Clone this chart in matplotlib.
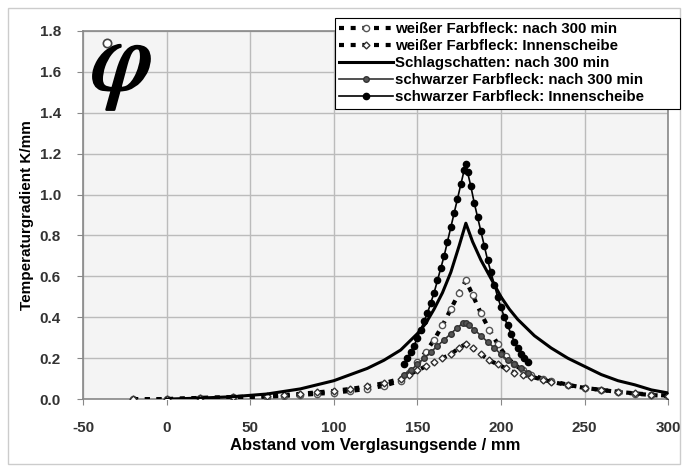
"""
Temperaturgradient vs. Abstand vom Verglasungsende.

Run:
    python plot.py
"""

import matplotlib
matplotlib.use("Agg")
import matplotlib.pyplot as plt
import matplotlib.patheffects as pe
from matplotlib.patches import Rectangle

plt.rcParams["font.family"] = ["Liberation Sans", "DejaVu Sans"]
plt.rcParams["mathtext.fontset"] = "stix"

# weißer Farbfleck: nach 300 min
w300_x = [-20, 0, 20, 40, 60, 70, 80, 90, 100, 110, 120, 130, 140, 145, 150, 155,
          160, 165, 170, 175, 179, 183, 188, 193, 198, 203, 208, 213, 218, 225,
          230, 240, 250, 260, 270, 280, 290, 300]
w300_y = [0.0, 0.0, 0.005, 0.008, 0.012, 0.016, 0.02, 0.026, 0.032, 0.04, 0.05, 0.065,
          0.09, 0.13, 0.18, 0.23, 0.29, 0.36, 0.44, 0.52, 0.58, 0.51, 0.42, 0.34,
          0.27, 0.21, 0.17, 0.14, 0.12, 0.10, 0.09, 0.07, 0.055, 0.045, 0.035,
          0.027, 0.02, 0.015]

# weißer Farbfleck: Innenscheibe
win_x = [-20, 0, 20, 40, 60, 70, 80, 90, 100, 110, 120, 130, 140, 145, 150, 155,
         160, 165, 170, 175, 179, 183, 188, 193, 198, 203, 208, 213, 218, 225,
         230, 240, 250, 260, 270, 280, 290, 300]
win_y = [0.0, 0.0, 0.006, 0.01, 0.015, 0.02, 0.026, 0.033, 0.04, 0.05, 0.062, 0.078,
         0.10, 0.12, 0.14, 0.16, 0.18, 0.20, 0.22, 0.25, 0.27, 0.25, 0.22, 0.19,
         0.17, 0.15, 0.13, 0.12, 0.11, 0.095, 0.085, 0.068, 0.055, 0.045, 0.036,
         0.028, 0.022, 0.017]

# Schlagschatten: nach 300 min
ss_x = [0, 20, 40, 60, 80, 100, 110, 120, 130, 140, 150, 155, 160, 165, 170, 175,
        179, 183, 188, 192, 196, 200, 205, 210, 220, 230, 240, 250, 260, 270,
        280, 290, 300]
ss_y = [0.0, 0.005, 0.012, 0.025, 0.05, 0.09, 0.12, 0.15, 0.19, 0.24, 0.32, 0.37,
        0.44, 0.52, 0.62, 0.75, 0.86, 0.77, 0.68, 0.62, 0.56, 0.50, 0.44, 0.39,
        0.31, 0.25, 0.20, 0.16, 0.12, 0.09, 0.07, 0.045, 0.03]

# schwarzer Farbfleck: nach 300 min
s300_x = [142, 146, 150, 154, 158, 162, 166, 170, 174, 177, 179, 181, 184, 188,
          192, 196, 200, 204, 208, 212, 216]
s300_y = [0.12, 0.14, 0.17, 0.20, 0.23, 0.26, 0.29, 0.32, 0.35, 0.37, 0.37, 0.36,
          0.34, 0.31, 0.28, 0.25, 0.22, 0.19, 0.17, 0.15, 0.13]

# schwarzer Farbfleck: Innenscheibe
sin_x = [142, 144, 146, 148, 150, 152, 154, 156, 158, 160, 162, 164, 166, 168, 170,
         172, 174, 176, 178, 179, 180, 182, 184, 186, 188, 190, 192, 194, 196, 198,
         200, 202, 204, 206, 208, 210, 212, 214, 216]
sin_y = [0.17, 0.20, 0.23, 0.26, 0.30, 0.34, 0.38, 0.42, 0.47, 0.52, 0.58, 0.64,
         0.70, 0.77, 0.84, 0.91, 0.98, 1.05, 1.12, 1.15, 1.11, 1.04, 0.96, 0.89,
         0.82, 0.75, 0.68, 0.62, 0.56, 0.50, 0.45, 0.40, 0.36, 0.32, 0.28, 0.25,
         0.22, 0.20, 0.18]

x_ticks = [-50, 0, 50, 100, 150, 200, 250, 300]
y_ticks = [0.0, 0.2, 0.4, 0.6, 0.8, 1.0, 1.2, 1.4, 1.6, 1.8]


def main() -> None:
    fig = plt.figure(figsize=(6.82, 4.69), dpi=100)
    ax = fig.add_axes([0.1217, 0.149, 0.858, 0.785])
    ax.set_facecolor("#f4f4f4")

    ax.plot(w300_x, w300_y, color="black", linestyle=(0, (1.2, 1.6)), linewidth=3.0,
            marker="o", markersize=4.5, markerfacecolor="white", markeredgecolor="#555555",
            markeredgewidth=1.0, label="weißer Farbfleck: nach 300 min", zorder=3)
    ax.plot(win_x, win_y, color="black", linestyle=(0, (1.2, 1.6)), linewidth=3.0,
            marker="D", markersize=3.5, markerfacecolor="white", markeredgecolor="#333333",
            markeredgewidth=1.0, label="weißer Farbfleck: Innenscheibe", zorder=3)
    ax.plot(ss_x, ss_y, color="black", linewidth=2.2,
            label="Schlagschatten: nach 300 min", zorder=4)
    ax.plot(s300_x, s300_y, color="#333333", linewidth=1.2, marker="o", markersize=4,
            markerfacecolor="#555555", markeredgecolor="#333333",
            label="schwarzer Farbfleck: nach 300 min", zorder=4)
    ax.plot(sin_x, sin_y, color="black", linewidth=1.2, marker="o", markersize=4.5,
            markerfacecolor="black", markeredgecolor="black",
            label="schwarzer Farbfleck: Innenscheibe", zorder=5)

    ax.set_xlim(-50, 300)
    ax.set_ylim(0, 1.8)
    ax.set_xticks(x_ticks)
    ax.set_yticks(y_ticks)
    ax.set_xticklabels([str(t) for t in x_ticks])
    ax.set_yticklabels([f"{t:.1f}" for t in y_ticks])
    ax.tick_params(labelsize=11, length=4, color="#888888")
    ax.tick_params(axis="x", pad=12)
    ax.tick_params(axis="y", pad=12)
    for lab in ax.get_xticklabels() + ax.get_yticklabels():
        lab.set_fontweight("bold")
        lab.set_color("#333333")
    ax.grid(True, color="#bbbbbb", linewidth=1.0)
    ax.set_axisbelow(True)
    for sp in ax.spines.values():
        sp.set_color("#888888")
        sp.set_linewidth(1.2)

    ax.set_xlabel("Abstand vom Verglasungsende / mm", fontsize=12, fontweight="bold",
                  labelpad=2)
    ax.set_ylabel("Temperaturgradient K/mm", fontsize=11, fontweight="bold", labelpad=4)

    # phi symbol top left, small ring drawn as a marker
    ax.text(0.013, 1.035, r"$\varphi$", transform=ax.transAxes, fontsize=72,
            ha="left", va="top",
            path_effects=[pe.withStroke(linewidth=1.8, foreground="black")])
    ax.plot([0.041], [0.967], transform=ax.transAxes, marker="o", markersize=6,
            markerfacecolor="white", markeredgecolor="#444444", markeredgewidth=1.2,
            linestyle="none", zorder=6)

    leg = fig.legend(loc="upper left", bbox_to_anchor=(0.491, 0.74, 0.506, 0.222),
                     mode="expand", ncol=1,
                     prop={"size": 10.8, "weight": "bold"}, frameon=True, fancybox=False,
                     handlelength=3.6, handletextpad=0.1, borderpad=0.3,
                     labelspacing=0.2, borderaxespad=0)
    leg.get_frame().set_edgecolor("black")
    leg.get_frame().set_linewidth(0.8)
    leg.get_frame().set_facecolor("white")
    leg.get_frame().set_alpha(1.0)

    fig.patches.append(Rectangle((0.012, 0.01), 0.985, 0.972, transform=fig.transFigure,
                                 fill=False, edgecolor="#cccccc", linewidth=1.0))

    fig.savefig("out.png", dpi=100)
    plt.close(fig)


if __name__ == "__main__":
    main()
